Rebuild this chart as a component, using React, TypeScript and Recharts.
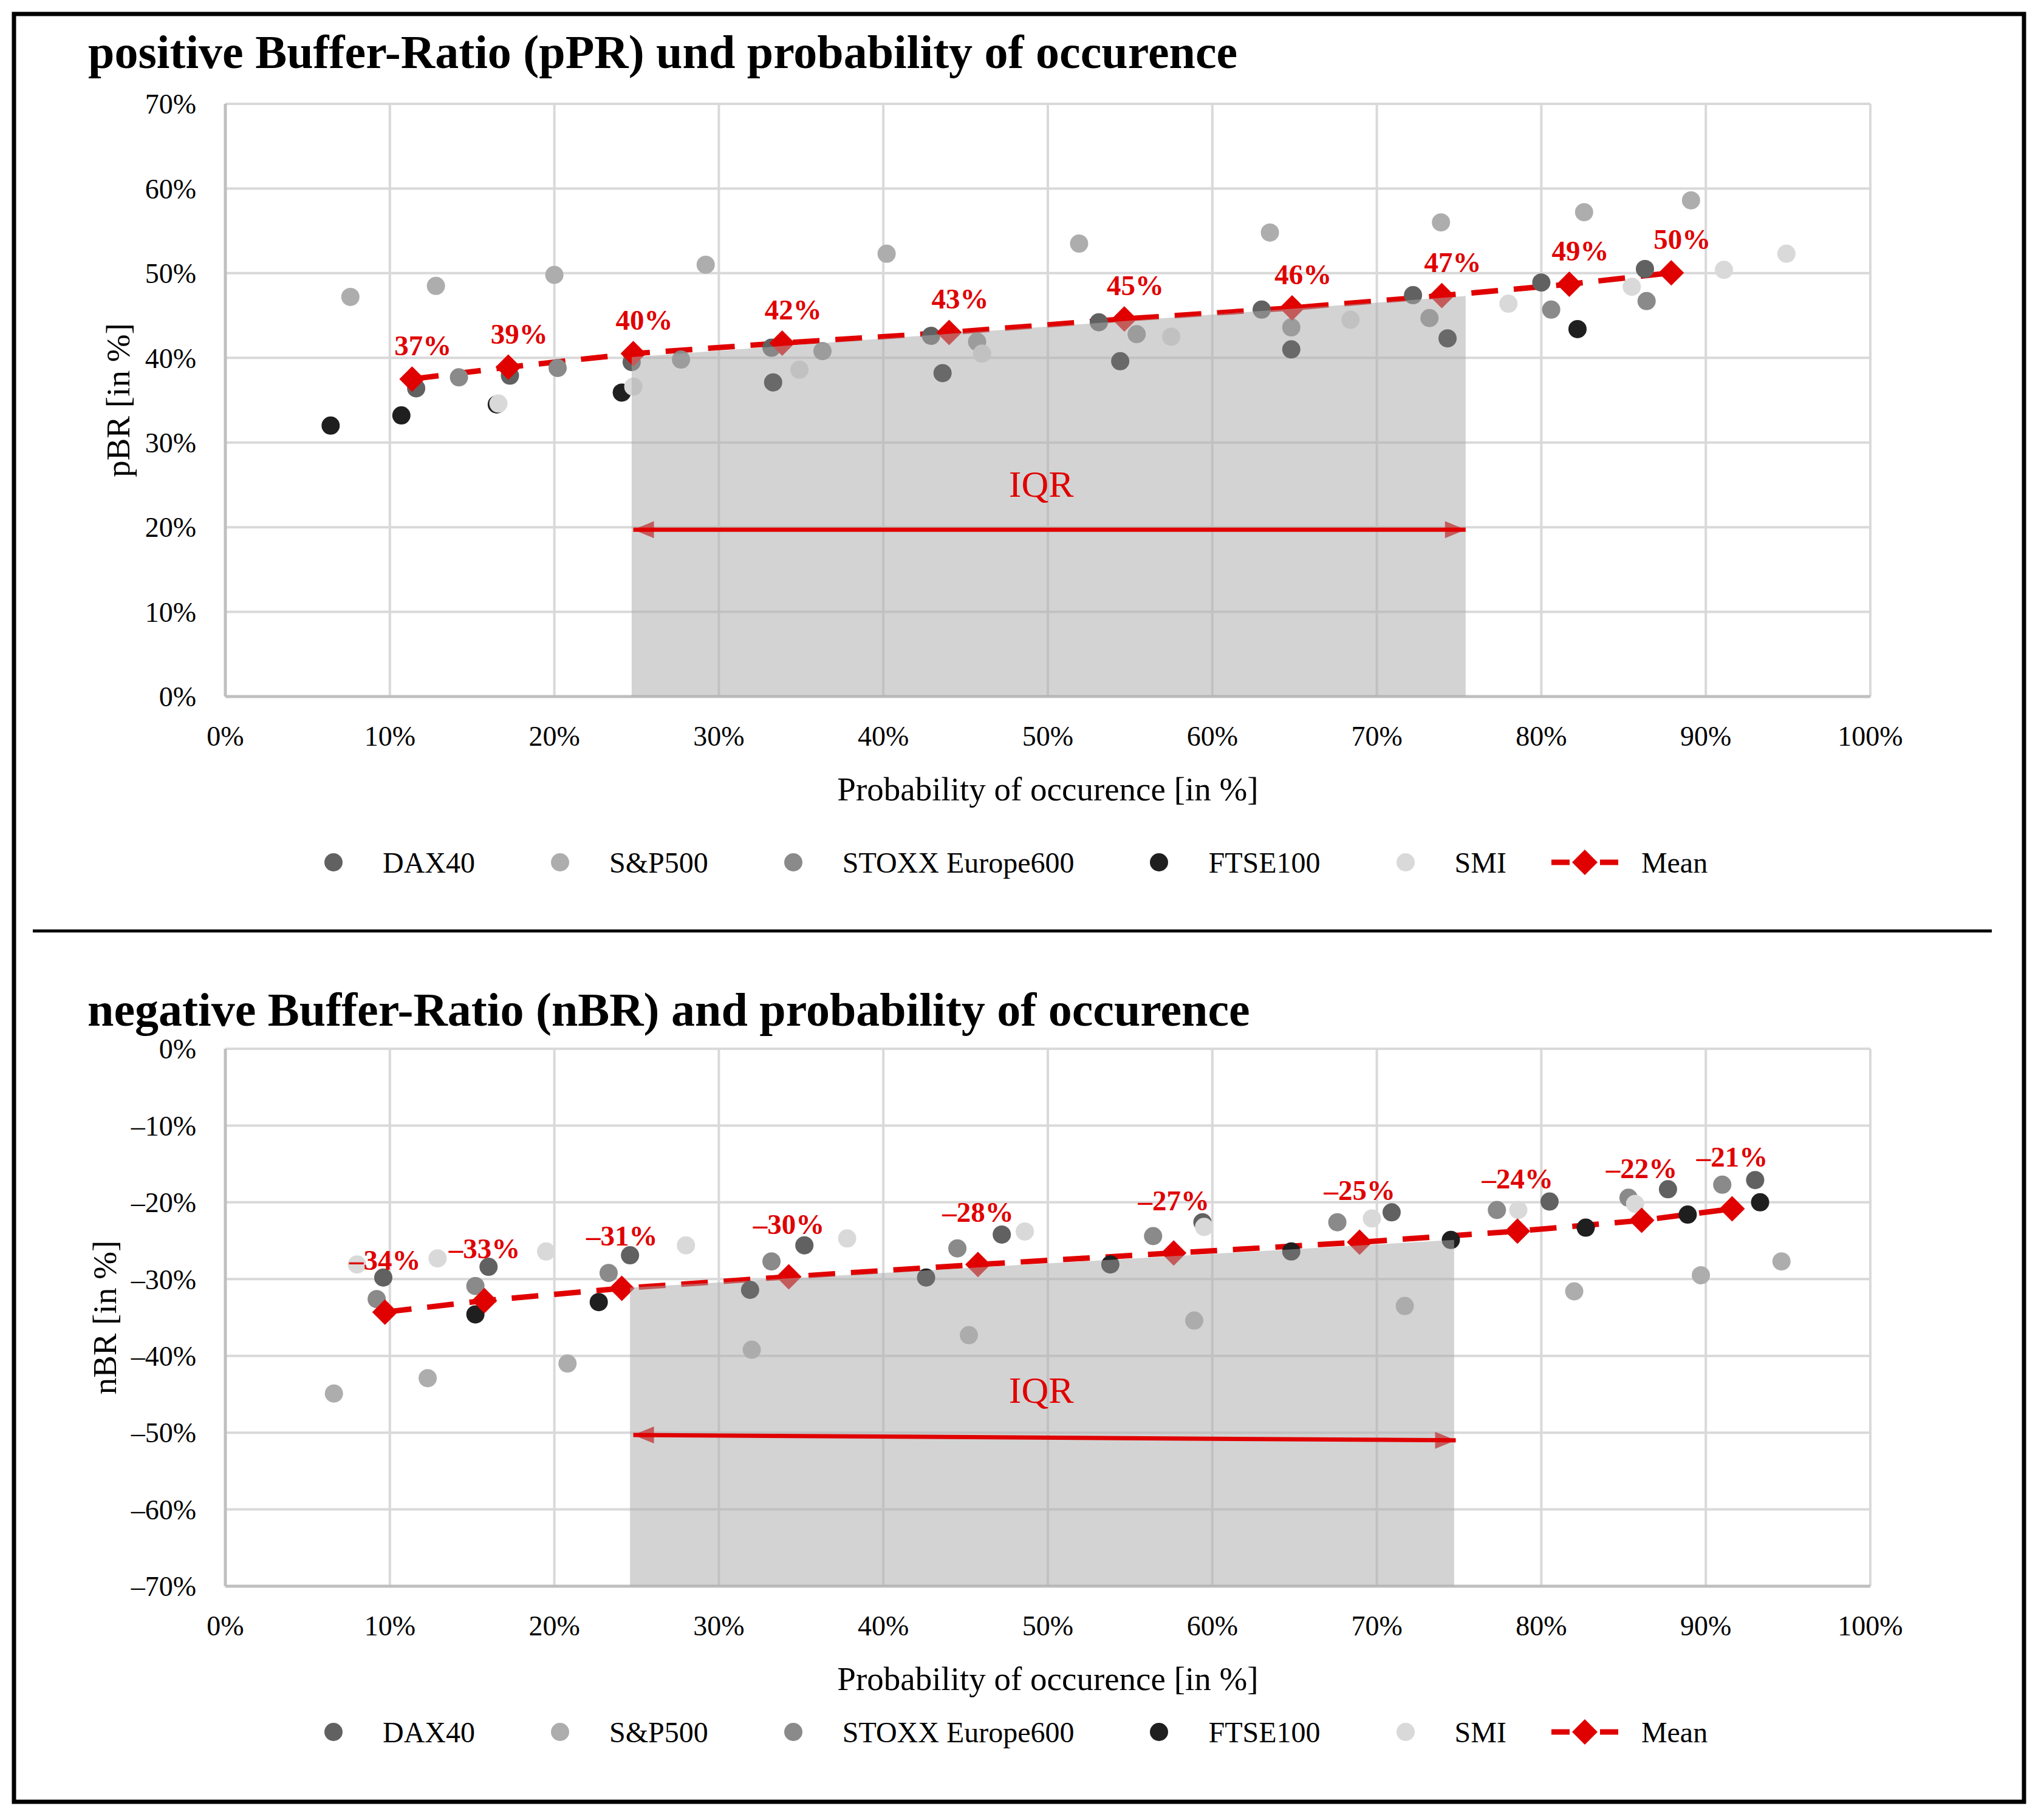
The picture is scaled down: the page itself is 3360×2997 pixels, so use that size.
import {
  Area,
  CartesianGrid,
  ComposedChart,
  LabelList,
  Line,
  ReferenceDot,
  Scatter,
  XAxis,
  YAxis,
} from "recharts";

const SERIF = "'Liberation Serif', 'Times New Roman', Times, serif";
const RED = "#e00000";

const SERIES_NAMES = ["DAX40", "S&P500", "STOXX Europe600", "FTSE100", "SMI"];
const SERIES_COLORS: Record<string, string> = {
  DAX40: "#616161",
  "S&P500": "#adadad",
  "STOXX Europe600": "#8a8a8a",
  FTSE100: "#1f1f1f",
  SMI: "#d9d9d9",
};

const X_TICKS = [0, 10, 20, 30, 40, 50, 60, 70, 80, 90, 100];
const PBR_TICKS = [0, 10, 20, 30, 40, 50, 60, 70];
const NBR_TICKS = [-70, -60, -50, -40, -30, -20, -10, 0];

// positive buffer ratio: [probability %, pBR %]
const PBR_DAX40 = [[11.6, 36.4], [17.3, 37.9], [24.7, 39.5], [33.2, 41.2], [42.9, 42.6], [53.1, 44.2], [63.0, 45.7], [72.2, 47.4], [80.0, 48.9], [86.3, 50.5]];
const PBR_SP500 = [[7.6, 47.2], [12.8, 48.5], [20.0, 49.8], [29.2, 51.0], [40.2, 52.3], [51.9, 53.5], [63.5, 54.8], [73.9, 56.0], [82.6, 57.2], [89.1, 58.6]];
const PBR_STOXX = [[14.2, 37.7], [20.2, 38.8], [27.7, 39.8], [36.3, 40.8], [45.7, 41.9], [55.4, 42.8], [64.8, 43.6], [73.2, 44.7], [80.6, 45.7], [86.4, 46.7]];
const PBR_FTSE = [[6.4, 32.0], [10.7, 33.2], [16.5, 34.5], [24.1, 35.9], [33.3, 37.1], [43.6, 38.2], [54.4, 39.6], [64.8, 41.0], [74.3, 42.3], [82.2, 43.4]];
const PBR_SMI = [[16.6, 34.6], [24.8, 36.6], [34.9, 38.6], [46.0, 40.5], [57.5, 42.5], [68.4, 44.5], [78.0, 46.4], [85.5, 48.4], [91.1, 50.4], [94.9, 52.3]];
const PBR_MEAN_X = [11.35, 17.2, 24.8, 33.85, 44.0, 54.65, 64.85, 73.95, 81.7, 87.9];
const PBR_MEAN_Y = [37.5, 38.9, 40.5, 41.75, 43.0, 44.6, 45.9, 47.35, 48.7, 50.05];
const PBR_MEAN_LABELS = ["37%", "39%", "40%", "42%", "43%", "45%", "46%", "47%", "49%", "50%"];
const PBR_IQR_X = [24.7, 75.4];
const PBR_IQR_TOP = [40.1, 47.3];
const PBR_ARROW_X = [24.8, 75.4];
const PBR_ARROW_Y = [19.7, 19.7];
const PBR_IQR_TEXT = { x: 49.6, y: 25.2 };

// negative buffer ratio: [probability %, nBR %]
const NBR_DAX40 = [[9.6, -29.8], [16.0, -28.4], [24.6, -26.9], [35.2, -25.6], [47.2, -24.2], [59.4, -22.6], [70.9, -21.3], [80.5, -19.9], [87.7, -18.3], [93.0, -17.1]];
const NBR_SP500 = [[6.6, -44.9], [12.3, -42.9], [20.8, -41.0], [32.0, -39.2], [45.2, -37.3], [58.9, -35.4], [71.7, -33.5], [82.0, -31.6], [89.7, -29.5], [94.6, -27.7]];
const NBR_STOXX = [[9.2, -32.6], [15.2, -30.9], [23.3, -29.2], [33.2, -27.7], [44.5, -26.0], [56.4, -24.4], [67.6, -22.6], [77.3, -21.0], [85.3, -19.4], [91.0, -17.7]];
const NBR_FTSE = [[15.2, -34.6], [22.7, -33.0], [31.9, -31.4], [42.6, -29.8], [53.8, -28.1], [64.8, -26.4], [74.5, -24.9], [82.7, -23.3], [88.9, -21.6], [93.3, -20.0]];
const NBR_SMI = [[8.0, -28.1], [12.9, -27.3], [19.5, -26.4], [28.0, -25.6], [37.8, -24.7], [48.6, -23.8], [59.5, -23.2], [69.7, -22.1], [78.6, -21.0], [85.7, -20.2]];
const NBR_MEAN_X = [9.7, 15.75, 24.1, 34.25, 45.75, 57.65, 68.95, 78.55, 86.1, 91.6];
const NBR_MEAN_Y = [-34.3, -32.8, -31.2, -29.7, -28.1, -26.6, -25.2, -23.75, -22.35, -20.85];
const NBR_MEAN_LABELS = ["\u201334%", "\u201333%", "\u201331%", "\u201330%", "\u201328%", "\u201327%", "\u201325%", "\u201324%", "\u201322%", "\u201321%"];
const NBR_IQR_X = [24.6, 74.7];
const NBR_IQR_TOP = [-31.1, -24.9];
const NBR_ARROW_X = [24.8, 74.8];
const NBR_ARROW_Y = [-50.3, -51.0];
const NBR_IQR_TEXT = { x: 49.6, y: -44.4 };

const toPoints = (pairs: number[][]) => pairs.map(([x, y]) => ({ x, y }));
const zip = (xs: number[], ys: number[], labels?: string[]) =>
  xs.map((x, i) => ({ x, y: ys[i], label: labels ? labels[i] : undefined }));
const pct = (v: number) => (v < 0 ? `\u2013${-v}%` : `${v}%`);

const dotShape = (color: string) => (p: any) => (
  <circle cx={p.cx} cy={p.cy} r={15} fill={color} />
);

function renderDiamond(p: any) {
  const { cx, cy, index } = p;
  if (cx == null || cy == null) return <g key={`d${index}`} />;
  const s = 21;
  return (
    <path
      key={`d${index}`}
      d={`M${cx},${cy - s}L${cx + s},${cy}L${cx},${cy + s}L${cx - s},${cy}Z`}
      fill={RED}
    />
  );
}

function renderArrowHead(p: any) {
  const { cx, cy, index } = p;
  if (cx == null || cy == null) return <g key={`a${index}`} />;
  const dir = index === 0 ? 1 : -1;
  return (
    <path
      key={`a${index}`}
      d={`M${cx},${cy}L${cx + dir * 34},${cy - 14}L${cx + dir * 34},${cy + 14}Z`}
      fill={RED}
    />
  );
}

const meanLabel = (dx: number, dy: number) => (p: any) => {
  const x = p.x ?? p.viewBox?.x;
  const y = p.y ?? p.viewBox?.y;
  if (x == null || y == null) return null;
  return (
    <text
      key={`l${p.index}`}
      x={x + dx}
      y={y + dy}
      textAnchor="middle"
      fill={RED}
      fontFamily={SERIF}
      fontWeight={700}
      fontSize={47}
    >
      {p.value}
    </text>
  );
};

type PanelProps = {
  top: number;
  height: number;
  marginTop: number;
  marginBottom: number;
  series: number[][][];
  mean: { x: number; y: number; label?: string }[];
  iqr: { x: number; y: number }[];
  arrow: { x: number; y: number }[];
  iqrText: { x: number; y: number };
  yTicks: number[];
  yDomain: [number, number];
  yTitle: string;
  yTitleOffset: number;
  labelDx: number;
  labelDy: number;
};

const tickStyle = { fontSize: 46, fill: "#000", fontFamily: SERIF };
const axisLineStyle = { stroke: "#bfbfbf", strokeWidth: 5 };

function Panel(p: PanelProps) {
  return (
    <div style={{ position: "absolute", left: 0, top: p.top }}>
      <ComposedChart
        width={3360}
        height={p.height}
        margin={{ top: p.marginTop, right: 281, bottom: p.marginBottom, left: 121 }}
      >
        <CartesianGrid stroke="#d9d9d9" strokeWidth={4} />
        <XAxis
          type="number"
          dataKey="x"
          domain={[0, 100]}
          ticks={X_TICKS}
          interval={0}
          tickFormatter={pct}
          height={175}
          axisLine={axisLineStyle}
          tickLine={false}
          tickSize={0}
          tickMargin={48}
          tick={tickStyle}
          label={{
            value: "Probability of occurence [in %]",
            position: "insideBottom",
            offset: 4,
            fontSize: 55,
            fill: "#000",
            fontFamily: SERIF,
          }}
        />
        <YAxis
          type="number"
          dataKey="y"
          domain={p.yDomain}
          ticks={p.yTicks}
          interval={0}
          tickFormatter={pct}
          width={250}
          axisLine={axisLineStyle}
          tickLine={false}
          tickSize={0}
          tickMargin={48}
          tick={tickStyle}
          label={{
            value: p.yTitle,
            angle: -90,
            position: "insideLeft",
            offset: p.yTitleOffset,
            fontSize: 55,
            fill: "#000",
            fontFamily: SERIF,
            style: { textAnchor: "middle" },
          }}
        />
        {SERIES_NAMES.map((name, i) => (
          <Scatter
            key={name}
            name={name}
            data={toPoints(p.series[i])}
            shape={dotShape(SERIES_COLORS[name])}
            isAnimationActive={false}
          />
        ))}
        <Line
          name="Mean"
          data={p.mean}
          dataKey="y"
          type="linear"
          stroke={RED}
          strokeWidth={9}
          strokeDasharray="44 26"
          dot={renderDiamond}
          activeDot={false}
          isAnimationActive={false}
        >
          <LabelList dataKey="label" content={meanLabel(p.labelDx, p.labelDy)} />
        </Line>
        <Area
          data={p.iqr}
          dataKey="y"
          type="linear"
          baseValue="dataMin"
          fill="#acacac"
          fillOpacity={0.53}
          stroke="none"
          isAnimationActive={false}
          zIndex={700}
        />
        <Line
          data={p.arrow}
          dataKey="y"
          type="linear"
          stroke={RED}
          strokeWidth={7}
          dot={renderArrowHead}
          activeDot={false}
          isAnimationActive={false}
          zIndex={800}
        />
        <ReferenceDot
          x={p.iqrText.x}
          y={p.iqrText.y}
          r={1}
          fill="none"
          stroke="none"
          zIndex={900}
          label={{ value: "IQR", position: "center", fill: RED, fontSize: 62, fontFamily: SERIF }}
        />
      </ComposedChart>
    </div>
  );
}

function LegendRow({ top }: { top: number }) {
  return (
    <div
      style={{
        position: "absolute",
        left: 501,
        top,
        height: 60,
        display: "flex",
        alignItems: "center",
        fontFamily: SERIF,
        fontSize: 48,
        color: "#000",
        whiteSpace: "nowrap",
      }}
    >
      {SERIES_NAMES.map((name, i) => (
        <div
          key={name}
          style={{ display: "flex", alignItems: "center", marginRight: i === SERIES_NAMES.length - 1 ? 71 : 92 }}
        >
          <svg width={96} height={40}>
            <circle cx={48} cy={20} r={15} fill={SERIES_COLORS[name]} />
          </svg>
          <span style={{ marginLeft: 33 }}>{name}</span>
        </div>
      ))}
      <div style={{ display: "flex", alignItems: "center" }}>
        <svg width={116} height={44}>
          <line x1={3} y1={22} x2={113} y2={22} stroke={RED} strokeWidth={9} strokeDasharray="30 10" />
          <path d="M58,1L79,22L58,43L37,22Z" fill={RED} />
        </svg>
        <span style={{ marginLeft: 35 }}>Mean</span>
      </div>
    </div>
  );
}

export default function App() {
  return (
    <div
      style={{
        position: "absolute",
        left: 0,
        top: 0,
        width: 3360,
        height: 2997,
        background: "#fff",
        overflow: "hidden",
      }}
    >
      <svg width={3360} height={2997} style={{ position: "absolute", left: 0, top: 0 }}>
        <rect x={23} y={23} width={3309} height={2944} fill="none" stroke="#000" strokeWidth={7} />
        <line x1={54} y1={1533} x2={3279} y2={1533} stroke="#000" strokeWidth={5} />
        <text x={145} y={112} fontFamily={SERIF} fontWeight={700} fontSize={78} fill="#000">
          positive Buffer-Ratio (pPR) und probability of occurence
        </text>
        <text x={144} y={1689} fontFamily={SERIF} fontWeight={700} fontSize={78} fill="#000">
          negative Buffer-Ratio (nBR) and probability of occurence
        </text>
      </svg>
      <Panel
        top={0}
        height={1400}
        marginTop={171}
        marginBottom={78}
        series={[PBR_DAX40, PBR_SP500, PBR_STOXX, PBR_FTSE, PBR_SMI]}
        mean={zip(PBR_MEAN_X, PBR_MEAN_Y, PBR_MEAN_LABELS)}
        iqr={zip(PBR_IQR_X, PBR_IQR_TOP)}
        arrow={zip(PBR_ARROW_X, PBR_ARROW_Y)}
        iqrText={PBR_IQR_TEXT}
        yTicks={PBR_TICKS}
        yDomain={[0, 70]}
        yTitle="pBR [in %]"
        yTitleOffset={72}
        labelDx={18}
        labelDy={-39}
      />
      <LegendRow top={1390} />
      <Panel
        top={1540}
        height={1400}
        marginTop={187}
        marginBottom={153}
        series={[NBR_DAX40, NBR_SP500, NBR_STOXX, NBR_FTSE, NBR_SMI]}
        mean={zip(NBR_MEAN_X, NBR_MEAN_Y, NBR_MEAN_LABELS)}
        iqr={zip(NBR_IQR_X, NBR_IQR_TOP)}
        arrow={zip(NBR_ARROW_X, NBR_ARROW_Y)}
        iqrText={NBR_IQR_TEXT}
        yTicks={NBR_TICKS}
        yDomain={[-70, 0]}
        yTitle="nBR [in %]"
        yTitleOffset={50}
        labelDx={0}
        labelDy={-70}
      />
      <LegendRow top={2822} />
    </div>
  );
}
